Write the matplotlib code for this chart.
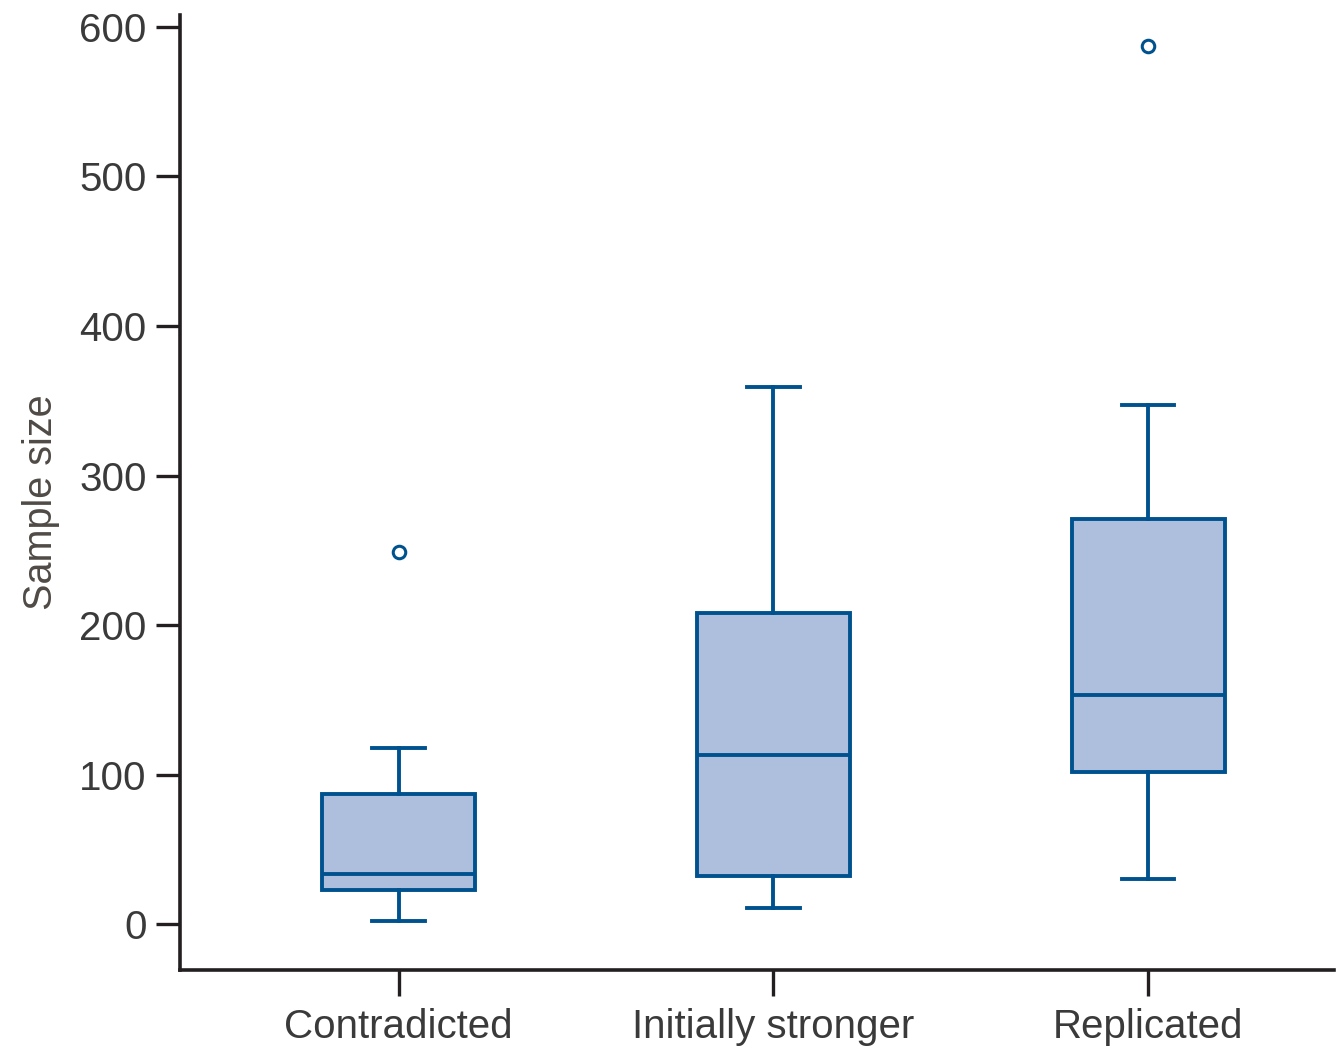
import matplotlib
matplotlib.use('Agg')
import matplotlib.pyplot as plt

plt.rcParams['font.family'] = ['Liberation Sans', 'DejaVu Sans']

categories = ['Contradicted', 'Initially stronger', 'Replicated']
whisker_lo = [2, 11, 30]
q1 = [23, 32, 102]
median = [34, 113, 153]
q3 = [87, 208, 271]
whisker_hi = [118, 359, 347]
outliers = [[249], [], [587]]
yticks = [0, 100, 200, 300, 400, 500, 600]

edge = '#00528f'
fill = '#adbfdc'
axis_col = '#231f20'
text_col = '#3a3a3a'

stats = []
for i, name in enumerate(categories):
    stats.append(dict(label=name, whislo=whisker_lo[i], q1=q1[i], med=median[i],
                      q3=q3[i], whishi=whisker_hi[i], fliers=outliers[i]))

fig = plt.figure(figsize=(13.36, 10.49), dpi=100)
ax = fig.add_axes([0.1347, 0.0753, 0.8638, 0.9104])

lw = 2.8
ax.bxp(stats, positions=[1, 2, 3], widths=0.41, capwidths=0.139,
       patch_artist=True,
       boxprops=dict(facecolor=fill, edgecolor=edge, linewidth=lw),
       medianprops=dict(color=edge, linewidth=lw),
       whiskerprops=dict(color=edge, linewidth=lw),
       capprops=dict(color=edge, linewidth=lw),
       flierprops=dict(marker='o', markerfacecolor='none', markeredgecolor=edge,
                       markersize=9, markeredgewidth=2.2))

ax.set_xlim(0.417, 3.495)
ax.set_ylim(-30.5, 607.8)
ax.set_yticks(yticks)
ax.set_xticks([1, 2, 3])
ax.set_xticklabels(categories)

for s in ['top', 'right']:
    ax.spines[s].set_visible(False)
for s in ['left', 'bottom']:
    ax.spines[s].set_linewidth(2.6)
    ax.spines[s].set_color(axis_col)

ax.tick_params(axis='y', length=17, width=2.4, color=axis_col, pad=7,
               labelsize=29, labelcolor=text_col)
ax.tick_params(axis='x', length=18.5, width=2.4, color=axis_col, pad=9,
               labelsize=29, labelcolor=text_col)

ax.text(-0.12, 0.49, 'Sample size', rotation=90, ha='center', va='center',
        transform=ax.transAxes, fontsize=28.5, color='#4f4a45')

fig.savefig('out.png', dpi=100)
